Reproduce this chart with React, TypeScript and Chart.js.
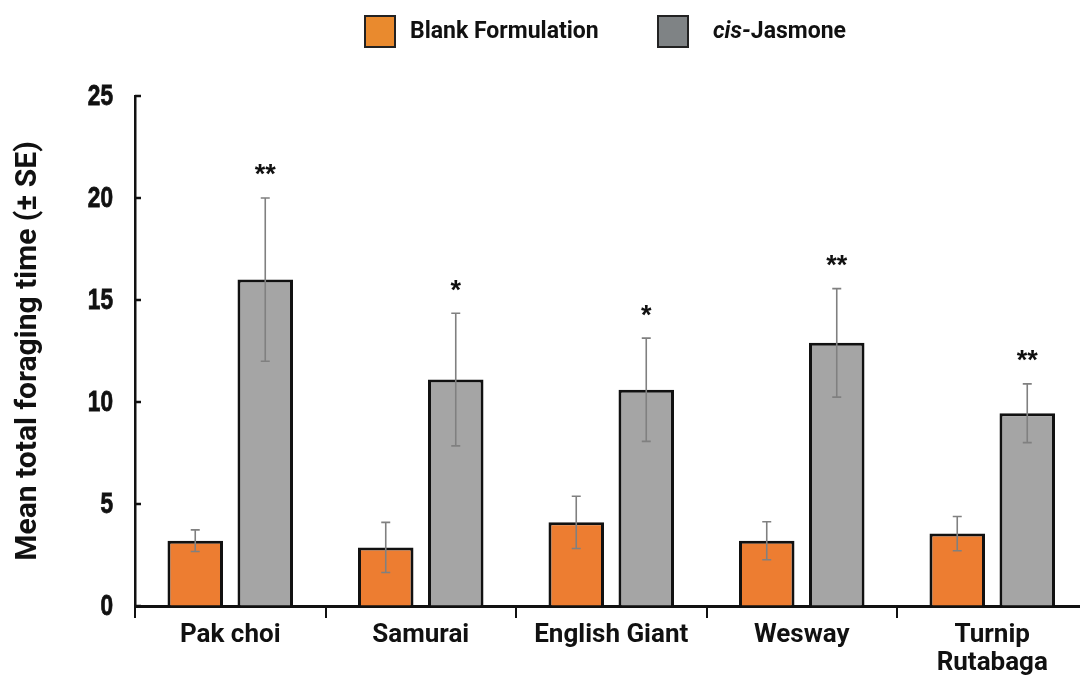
import React, { useEffect, useRef } from "react";
import { Chart, registerables } from "chart.js";

Chart.register(...registerables);

// ---- data ----
const categories: (string | string[])[] = ["Pak choi", "Samurai", "English Giant", "Wesway", ["Turnip", "Rutabaga"]];
const seriesNames = ["Blank Formulation", "cis-Jasmone"];
const blankMeans = [3.2, 2.87, 4.1, 3.2, 3.55];
const blankSE = [0.53, 1.23, 1.28, 0.93, 0.84];
const cisMeans = [16.0, 11.1, 10.6, 12.9, 9.45];
const cisSE = [4.0, 3.25, 2.53, 2.66, 1.44];
const significance = ["**", "*", "*", "**", "**"];
const yMin = 0;
const yMax = 25;
const yStep = 5;

const ORANGE = "#ED7D31";
const GRAY = "#A5A5A5";
const LEGEND_ORANGE = "#E98A2E";
const LEGEND_GRAY = "#7F8385";
const INK = "#111111";

const CANVAS_W = 1100;
const CANVAS_H = 675;

const errorBarPlugin = {
  id: "errorBars",
  afterDatasetsDraw(chart: any) {
    const ctx = chart.ctx;
    const y = chart.scales.y;
    ctx.save();
    ctx.strokeStyle = "#808080";
    ctx.lineWidth = 1.6;
    chart.data.datasets.forEach((ds: any, i: number) => {
      const meta = chart.getDatasetMeta(i);
      meta.data.forEach((bar: any, j: number) => {
        const v = ds.data[j];
        const se = ds.se[j];
        const x = bar.x;
        const top = y.getPixelForValue(v + se);
        const bot = y.getPixelForValue(v - se);
        ctx.beginPath();
        ctx.moveTo(x, top);
        ctx.lineTo(x, bot);
        ctx.moveTo(x - 4.5, top);
        ctx.lineTo(x + 4.5, top);
        ctx.moveTo(x - 4.5, bot);
        ctx.lineTo(x + 4.5, bot);
        ctx.stroke();
      });
    });
    // significance stars above cis-Jasmone bars
    const ds = chart.data.datasets[1];
    const meta = chart.getDatasetMeta(1);
    ctx.fillStyle = INK;
    ctx.font = "bold 27px 'Liberation Sans', Arial, sans-serif";
    ctx.textAlign = "center";
    ctx.textBaseline = "middle";
    meta.data.forEach((bar: any, j: number) => {
      const top = y.getPixelForValue(ds.data[j] + ds.se[j]);
      ctx.fillText(significance[j], bar.x, top - 22);
    });
    ctx.restore();
  },
};

const yAxisPlugin = {
  id: "yAxisDecor",
  afterDraw(chart: any) {
    const ctx = chart.ctx;
    const y = chart.scales.y;
    const left = chart.chartArea.left;
    ctx.save();
    ctx.strokeStyle = INK;
    ctx.lineWidth = 2.5;
    y.ticks.forEach((t: any) => {
      const py = y.getPixelForValue(t.value);
      ctx.beginPath();
      ctx.moveTo(left, py);
      ctx.lineTo(left + 6, py);
      ctx.stroke();
    });
    // condensed bold tick labels
    ctx.fillStyle = INK;
    ctx.font = "bold 29px 'Liberation Sans', Arial, sans-serif";
    ctx.textAlign = "right";
    ctx.textBaseline = "middle";
    ctx.lineWidth = 0.8;
    ctx.strokeStyle = INK;
    const sx = 0.78;
    y.ticks.forEach((t: any) => {
      const py = y.getPixelForValue(t.value);
      ctx.save();
      ctx.translate(113, py + 1);
      ctx.scale(sx, 1);
      ctx.fillText(String(t.value), 0, 0);
      ctx.strokeText(String(t.value), 0, 0);
      ctx.restore();
    });
    ctx.restore();
  },
};

const legendPlugin = {
  id: "customLegend",
  afterDraw(chart: any) {
    const ctx = chart.ctx;
    const items = [
      { x: 364, color: LEGEND_ORANGE, textX: 410, parts: [{ t: seriesNames[0], italic: false }] },
      {
        x: 657,
        color: LEGEND_GRAY,
        textX: 713,
        parts: [
          { t: seriesNames[1].slice(0, 4), italic: true },
          { t: seriesNames[1].slice(4), italic: false },
        ],
      },
    ];
    ctx.save();
    items.forEach((it) => {
      ctx.fillStyle = it.color;
      ctx.fillRect(it.x, 15, 32, 33);
      ctx.strokeStyle = "#222";
      ctx.lineWidth = 2;
      ctx.strokeRect(it.x + 1, 16, 30, 31);
      let tx = it.textX;
      ctx.fillStyle = INK;
      ctx.textBaseline = "middle";
      ctx.textAlign = "left";
      it.parts.forEach((p) => {
        ctx.font = (p.italic ? "italic " : "") + "bold 23px Roboto, sans-serif";
        ctx.fillText(p.t, tx, 32);
        tx += ctx.measureText(p.t).width;
      });
    });
    ctx.restore();
  },
};

export default function App() {
  const ref = useRef<HTMLCanvasElement>(null);

  useEffect(() => {
    if (!ref.current) return;
    const chart = new Chart(ref.current, {
      type: "bar",
      data: {
        labels: categories,
        datasets: [
          {
            label: seriesNames[0],
            data: blankMeans,
            se: blankSE,
            backgroundColor: ORANGE,
            borderColor: INK,
            borderWidth: 3,
            borderSkipped: "bottom",
            categoryPercentage: 0.735,
            barPercentage: 0.793,
          } as any,
          {
            label: seriesNames[1],
            data: cisMeans,
            se: cisSE,
            backgroundColor: GRAY,
            borderColor: INK,
            borderWidth: 3,
            borderSkipped: "bottom",
            categoryPercentage: 0.735,
            barPercentage: 0.793,
          } as any,
        ],
      },
      options: {
        responsive: false,
        animation: false,
        devicePixelRatio: 1,
        layout: { padding: { left: 0, top: 96, right: CANVAS_W - 1087.5, bottom: 0 } },
        plugins: {
          legend: { display: false },
          tooltip: { enabled: false },
        },
        scales: {
          x: {
            offset: true,
            grid: {
              display: true,
              offset: true,
              drawOnChartArea: false,
              drawTicks: true,
              tickLength: 12,
              color: INK,
              lineWidth: 2,
            },
            border: { display: true, color: INK, width: 3 },
            ticks: {
              color: INK,
              padding: 3,
              maxRotation: 0,
              autoSkip: false,
              font: { family: "Roboto, sans-serif", weight: "bold", size: 26, lineHeight: 1.1 },
            },
            afterFit: (s: any) => {
              s.height = CANVAS_H - 606;
            },
          },
          y: {
            min: yMin,
            max: yMax,
            ticks: {
              stepSize: yStep,
              display: false,
            },
            grid: { display: true, drawOnChartArea: false, drawTicks: false },
            border: { display: true, color: INK, width: 2.5 },
            title: {
              display: true,
              text: "Mean total foraging time (± SE)",
              color: INK,
              padding: { top: 10, bottom: 0 },
              font: { family: "Roboto, sans-serif", weight: "bold", size: 30, lineHeight: 1.2 },
            },
            afterFit: (s: any) => {
              s.width = 135;
            },
          },
        },
      },
      plugins: [errorBarPlugin, yAxisPlugin, legendPlugin],
    } as any);
    return () => chart.destroy();
  }, []);

  return (
    <div
      style={{
        position: "fixed",
        left: 0,
        top: 0,
        width: 1080,
        height: 675,
        overflow: "hidden",
        background: "#ffffff",
      }}
    >
      <canvas ref={ref} width={CANVAS_W} height={CANVAS_H} style={{ display: "block", width: CANVAS_W, height: CANVAS_H }} />
    </div>
  );
}
